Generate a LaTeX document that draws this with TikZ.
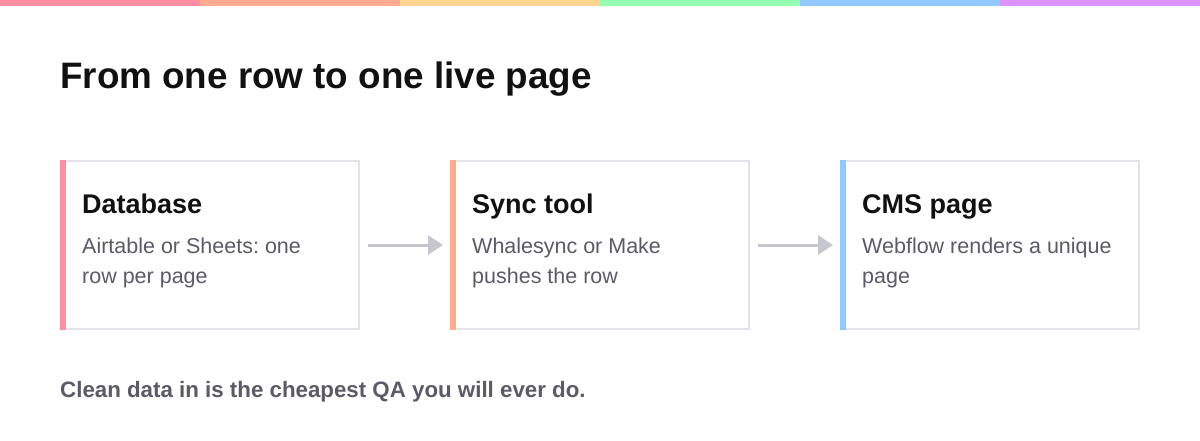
\documentclass[tikz,border=0pt]{standalone}
\usepackage{fontspec}
\setmainfont{Liberation Sans}
\frenchspacing
\usetikzlibrary{positioning,arrows.meta}
\definecolor{cpink}{HTML}{FF8FA0}
\definecolor{corange}{HTML}{FFAB91}
\definecolor{cyellow}{HTML}{FFD591}
\definecolor{cgreen}{HTML}{95FFB1}
\definecolor{cblue}{HTML}{91C8FF}
\definecolor{cviolet}{HTML}{DD91FF}
\definecolor{cborder}{HTML}{E2E2E8}
\definecolor{carrow}{HTML}{C6C7CE}
\definecolor{cink}{HTML}{111111}
\definecolor{cbody}{HTML}{5B5B66}
\begin{document}
\begin{tikzpicture}[x=1pt,y=-1pt,>={Triangle[length=15pt,width=19pt]},
    card/.style={draw=cborder,line width=2pt,minimum width=298pt,minimum height=168pt,inner sep=0pt},
    cardhead/.style={anchor=base west,inner sep=0pt,text=cink,font=\bfseries\fontsize{27}{32}\selectfont},
    cardbody/.style={anchor=base west,inner sep=0pt,align=left,text=cbody,font=\fontsize{21.5}{30}\selectfont},
    link/.style={->,draw=carrow,line width=3pt,shorten <=8pt,shorten >=7pt}]
    \useasboundingbox (0,0) rectangle (1200,440);
    \fill[white] (0,0) rectangle (1200,440);
    % colour strip along the top
    \foreach \c [count=\i from 0] in {cpink,corange,cyellow,cgreen,cblue,cviolet}
        \fill[\c] (200*\i,0) rectangle ++(200,6);
    \node [anchor=base west,inner sep=0pt,text=cink,font=\bfseries\fontsize{36.8}{44}\selectfont] (title) at (60,88) {From one row to one live page};
    % the three steps
    \node [card] (db) at (210,245) {};
    \node [card,right=90pt of db] (sync) {};
    \node [card,right=90pt of sync] (cms) {};
    \fill[cpink] (db.north west) rectangle ++(6,170);
    \fill[corange] (sync.north west) rectangle ++(6,170);
    \fill[cblue] (cms.north west) rectangle ++(6,170);
    \node [cardhead] (dbhead) at ([shift={(22,53)}]db.north west) {Database};
    \node [cardbody] (dbtext) at ([shift={(22,123)}]db.north west) {Airtable or Sheets: one\\row per page};
    \node [cardhead] (synchead) at ([shift={(22,53)}]sync.north west) {Sync tool};
    \node [cardbody] (synctext) at ([shift={(22,123)}]sync.north west) {Whalesync or Make\\pushes the row};
    \node [cardhead] (cmshead) at ([shift={(22,53)}]cms.north west) {CMS page};
    \node [cardbody] (cmstext) at ([shift={(22,123)}]cms.north west) {Webflow renders a unique\\page};
    \draw [link] (db) -- (sync);
    \draw [link] (sync) -- (cms);
    \node [anchor=base west,inner sep=0pt,text=cbody,font=\bfseries\fontsize{22.3}{26}\selectfont] (note) at (60,397) {Clean data in is the cheapest QA you will ever do.};
\end{tikzpicture}
\end{document}
